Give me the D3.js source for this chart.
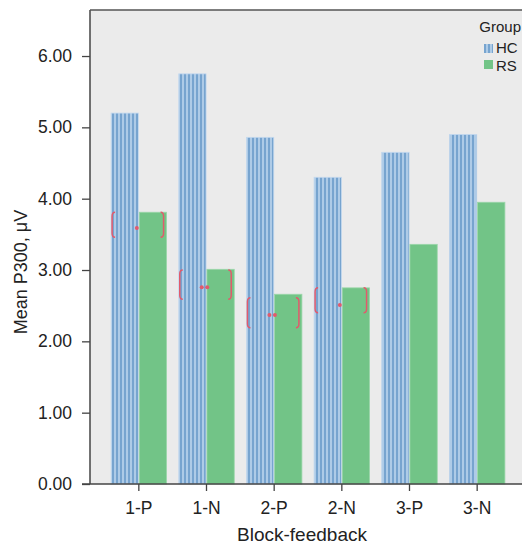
<!DOCTYPE html>
<html><head><meta charset="utf-8">
<script src="https://cdn.jsdelivr.net/npm/d3@7"></script>
<style>body{margin:0;background:#fff}svg{display:block;font-family:"Liberation Sans",Arial,Helvetica,sans-serif}</style>
</head><body>
<svg id="c" width="522" height="544"></svg>
<script>
const categories = ["1-P","1-N","2-P","2-N","3-P","3-N"];
const groups = ["HC","RS"];
const hcValues = [5.20, 5.75, 4.86, 4.30, 4.65, 4.90];
const rsValues = [3.81, 3.01, 2.66, 2.75, 3.36, 3.95];
const yTicks = [0,1,2,3,4,5,6];
// significance brackets: category, low, high, star count, star level
const sigCats = ["1-P","1-N","2-P","2-N"];
const sigLow = [3.46, 2.59, 2.19, 2.40];
const sigHigh = [3.81, 3.00, 2.61, 2.75];
const sigStars = [1, 2, 2, 1];
const sigDotY = [3.59, 2.76, 2.37, 2.51];

const svg = d3.select("#c");
const L = 90, T = 10, R = 522, B = 484;

svg.append("rect").attr("x", L).attr("y", T).attr("width", R - L).attr("height", B - T).attr("fill", "#ebebeb");

const defs = svg.append("defs");
const pat = defs.append("pattern").attr("id","stripe").attr("patternUnits","userSpaceOnUse")
  .attr("width",4).attr("height",4);
pat.append("rect").attr("width",4).attr("height",4).attr("fill","#aecbe7");
pat.append("rect").attr("width",2).attr("height",4).attr("fill","#77a4cf");

const x = d3.scaleBand().domain(categories).range([105, 511]).paddingInner(0.18).paddingOuter(0.09);
const x1 = d3.scaleBand().domain(groups).range([0, x.bandwidth()]).paddingInner(0.03);
const y = d3.scaleLinear().domain([0, 6]).range([B, B - 6 * 71.33]);

const data = categories.map((c, i) => ({c, HC: hcValues[i], RS: rsValues[i]}));
const g = svg.append("g");
data.forEach(d => {
  g.append("rect").attr("x", x(d.c) + x1("HC")).attr("y", y(d.HC))
    .attr("width", x1.bandwidth()).attr("height", y(0) - y(d.HC))
    .attr("fill", "url(#stripe)").attr("stroke","#c3d8ee").attr("stroke-width",0.8);
  g.append("rect").attr("x", x(d.c) + x1("RS")).attr("y", y(d.RS))
    .attr("width", x1.bandwidth()).attr("height", y(0) - y(d.RS))
    .attr("fill", "#72c487").attr("stroke","#9bd6aa").attr("stroke-width",0.8);
});

// significance brackets
const red = "#e25a6c";
sigCats.forEach((c, i) => {
  const x0 = x(c) + 1, xr = x(c) + x.bandwidth() - 3;
  const yt = y(sigHigh[i]), yb = y(sigLow[i]);
  const cx = x(c) + x.bandwidth() / 2;
  g.append("path").attr("fill","none").attr("stroke",red).attr("stroke-width",1.5)
    .attr("d", `M${x0+3},${yt} Q${x0},${yt} ${x0},${yt+4} L${x0},${yb-4} Q${x0},${yb} ${x0+3},${yb}`);
  g.append("path").attr("fill","none").attr("stroke",red).attr("stroke-width",1.5)
    .attr("d", `M${xr-3},${yt} Q${xr},${yt} ${xr},${yt+4} L${xr},${yb-4} Q${xr},${yb} ${xr-3},${yb}`);
  const n = sigStars[i];
  for (let k = 0; k < n; k++) {
    const dx = (k - (n - 1) / 2) * 5.5;
    g.append("circle").attr("cx", cx + dx - 2).attr("cy", y(sigDotY[i])).attr("r", 2).attr("fill", red);
  }
});

// axes
const yAxis = d3.axisLeft(y).tickValues(yTicks).tickFormat(d3.format(".2f")).tickSize(8).tickPadding(10);
const ya = svg.append("g").attr("transform", `translate(${L},0)`).call(yAxis);
ya.select(".domain").remove();
ya.selectAll(".tick line").attr("stroke","#444").attr("stroke-width",1.3);
ya.selectAll(".tick text").attr("font-size",17.5).attr("fill","#222").attr("font-family","Liberation Sans, Arial, sans-serif");

const xAxis = d3.axisBottom(x).tickSize(7).tickPadding(11);
const xa = svg.append("g").attr("transform", `translate(0,${B})`).call(xAxis);
xa.select(".domain").remove();
xa.selectAll(".tick line").attr("stroke","#444").attr("stroke-width",1.3);
xa.selectAll(".tick text").attr("font-size",17.5).attr("fill","#222").attr("font-family","Liberation Sans, Arial, sans-serif");

// frame lines
svg.append("line").attr("x1",L).attr("x2",L).attr("y1",T).attr("y2",B).attr("stroke","#444").attr("stroke-width",1.5);
svg.append("line").attr("x1",L-8).attr("x2",R).attr("y1",B).attr("y2",B).attr("stroke","#444").attr("stroke-width",1.5);
svg.append("line").attr("x1",L).attr("x2",R).attr("y1",T).attr("y2",T).attr("stroke","#555").attr("stroke-width",1.5);

// axis titles
svg.append("text").attr("x", 302).attr("y", 541).attr("text-anchor","middle")
  .attr("font-size",19).attr("fill","#222").text("Block-feedback");
svg.append("text").attr("transform","translate(27,272) rotate(-90)").attr("text-anchor","middle")
  .attr("font-size",18).attr("fill","#222").text("Mean P300, μV");

// legend
const lg = svg.append("g");
lg.append("text").attr("x", 521).attr("y", 32).attr("text-anchor","end").attr("font-size",15).attr("fill","#222").text("Group");
lg.append("rect").attr("x",484).attr("y",44).attr("width",9).attr("height",9).attr("fill","url(#stripe)");
lg.append("text").attr("x",496).attr("y",53).attr("font-size",15).attr("fill","#222").text("HC");
lg.append("rect").attr("x",484).attr("y",60).attr("width",9).attr("height",9).attr("fill","#72c487");
lg.append("text").attr("x",496).attr("y",71).attr("font-size",15).attr("fill","#222").text("RS");
</script>
</body></html>
